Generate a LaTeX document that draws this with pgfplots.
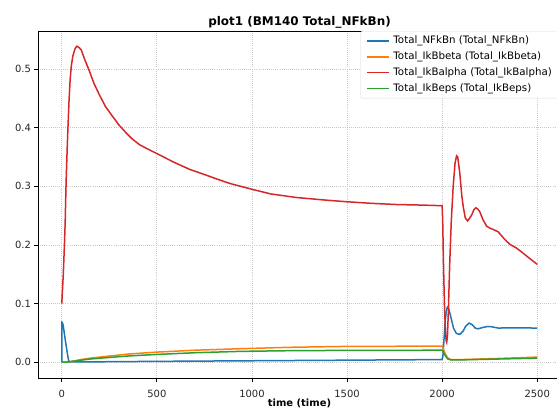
\documentclass[border=0pt]{standalone}
\usepackage{fontspec}
\setmainfont{DejaVu Sans}
\usepackage{pgfplots}
\pgfplotsset{compat=1.18}

\definecolor{mplblue}{HTML}{1F77B4}
\definecolor{mplorange}{HTML}{FF7F0E}
\definecolor{mplred}{HTML}{D62728}
\definecolor{mplgreen}{HTML}{2CA02C}
\definecolor{gridgray}{HTML}{C8C8C8}

\pgfplotsset{
    mplline/.style={#1, line width=1.5bp,
        legend image code/.code={\draw[#1, line width=1.7bp] (0bp,0bp) -- (22bp,0bp);}},
}

\begin{document}
\begin{tikzpicture}
\begin{axis}[
    scale only axis,
    width=523bp, height=347bp,
    xmin=-125, xmax=2625,
    ymin=-0.0269, ymax=0.565,
    xtick={0,500,1000,1500,2000,2500},
    ytick={0,0.1,0.2,0.3,0.4,0.5},
    /pgf/number format/assume math mode=true,
    /pgf/number format/1000 sep={},
    yticklabel style={/pgf/number format/.cd,fixed,fixed zerofill,precision=1},
    xticklabel style={yshift=-5.5bp},
    tick label style={font=\fontsize{10}{12}\selectfont, text=black!85},
    tick pos=left,
    tick align=outside,
    major tick length=3.5bp,
    every tick/.style={black, line width=0.8bp},
    axis line style={black, line width=0.8bp},
    grid=major,
    major grid style={gridgray, line width=0.8bp, dash pattern=on 0.8bp off 1.3bp},
    title={plot1 (BM140 Total\_NFkBn)},
    title style={font=\bfseries\fontsize{12}{14}\selectfont, yshift=-7bp},
    xlabel={time (time)},
    xlabel style={font=\bfseries\fontsize{10}{12}\selectfont, yshift=5.5bp},
    legend cell align=left,
    legend style={at={(rel axis cs:1,1)}, anchor=north east,
        draw=black!15, rounded corners=2bp, fill=white,
        font=\fontsize{10.3}{12}\selectfont, row sep=2.6bp,
        inner xsep=5bp, inner ysep=3bp,
        nodes={inner xsep=4bp}},
]
% Total_NFkBn
\addplot [mplline=mplblue] table {
0 0.0
1 0.068
4 0.067
8 0.062
14 0.048
20 0.035
27 0.020
33 0.008
38 0.001
100 0.0005
500 0.0015
1000 0.0025
1500 0.0035
1990 0.0045
2000 0.0048
2004 0.010
2010 0.040
2016 0.070
2022 0.088
2028 0.094
2035 0.091
2045 0.078
2060 0.058
2075 0.049
2093 0.0475
2110 0.053
2125 0.062
2142 0.0668
2158 0.064
2175 0.058
2189 0.057
2210 0.059
2240 0.061
2260 0.0605
2295 0.0583
2330 0.0585
2365 0.0588
2430 0.0585
2500 0.0583
};
\addlegendentry{Total\_NFkBn (Total\_NFkBn)}

% Total_IkBbeta
\addplot [mplline=mplorange] table {
0 0.0
37 0.0005
60 0.002
100 0.0045
150 0.0070
233 0.0099
350 0.0140
500 0.0173
700 0.0205
935 0.0230
1200 0.0255
1500 0.0270
2000 0.0275
2003 0.0260
2015 0.0150
2030 0.0070
2045 0.0046
2100 0.0045
2300 0.0065
2500 0.0087
};
\addlegendentry{Total\_IkBbeta (Total\_IkBbeta)}

% Total_IkBalpha
\addplot [mplline=mplred] table {
0 0.100
8 0.150
14 0.200
18 0.240
23 0.310
28 0.360
32 0.396
38 0.445
44 0.482
50 0.505
58 0.522
70 0.535
79 0.539
90 0.537
102 0.533
120 0.517
146 0.496
170 0.475
198 0.456
230 0.436
268 0.419
300 0.405
339 0.391
370 0.381
409 0.371
450 0.364
500 0.356
584 0.342
672 0.329
760 0.319
820 0.312
883 0.305
1000 0.295
1100 0.287
1234 0.281
1370 0.277
1500 0.2737
1630 0.271
1760 0.269
1900 0.268
2000 0.267
2003 0.240
2007 0.170
2012 0.100
2017 0.055
2021 0.037
2024 0.034
2028 0.045
2033 0.090
2040 0.170
2048 0.240
2058 0.300
2068 0.340
2076 0.352
2082 0.350
2093 0.322
2103 0.285
2111 0.265
2122 0.246
2134 0.241
2145 0.246
2155 0.251
2167 0.260
2177 0.2635
2188 0.261
2198 0.2566
2215 0.243
2234 0.232
2250 0.229
2268 0.2265
2295 0.2224
2325 0.211
2356 0.201
2390 0.195
2418 0.188
2460 0.177
2500 0.167
};
\addlegendentry{Total\_IkBalpha (Total\_IkBalpha)}

% Total_IkBeps
\addplot [mplline=mplgreen] table {
0 0.0
37 0.0005
60 0.0015
100 0.0035
150 0.0055
233 0.0077
350 0.0107
500 0.0133
700 0.0162
935 0.0185
1200 0.0197
1500 0.0202
2000 0.0205
2003 0.0195
2015 0.0120
2030 0.0055
2045 0.0040
2100 0.0040
2300 0.0055
2500 0.0070
};
\addlegendentry{Total\_IkBeps (Total\_IkBeps)}
\end{axis}
\pgfresetboundingbox
\path[use as bounding box] ([xshift=-38bp,yshift=-30bp]current axis.south west) rectangle ++(557bp,408bp);
\end{tikzpicture}
\end{document}
